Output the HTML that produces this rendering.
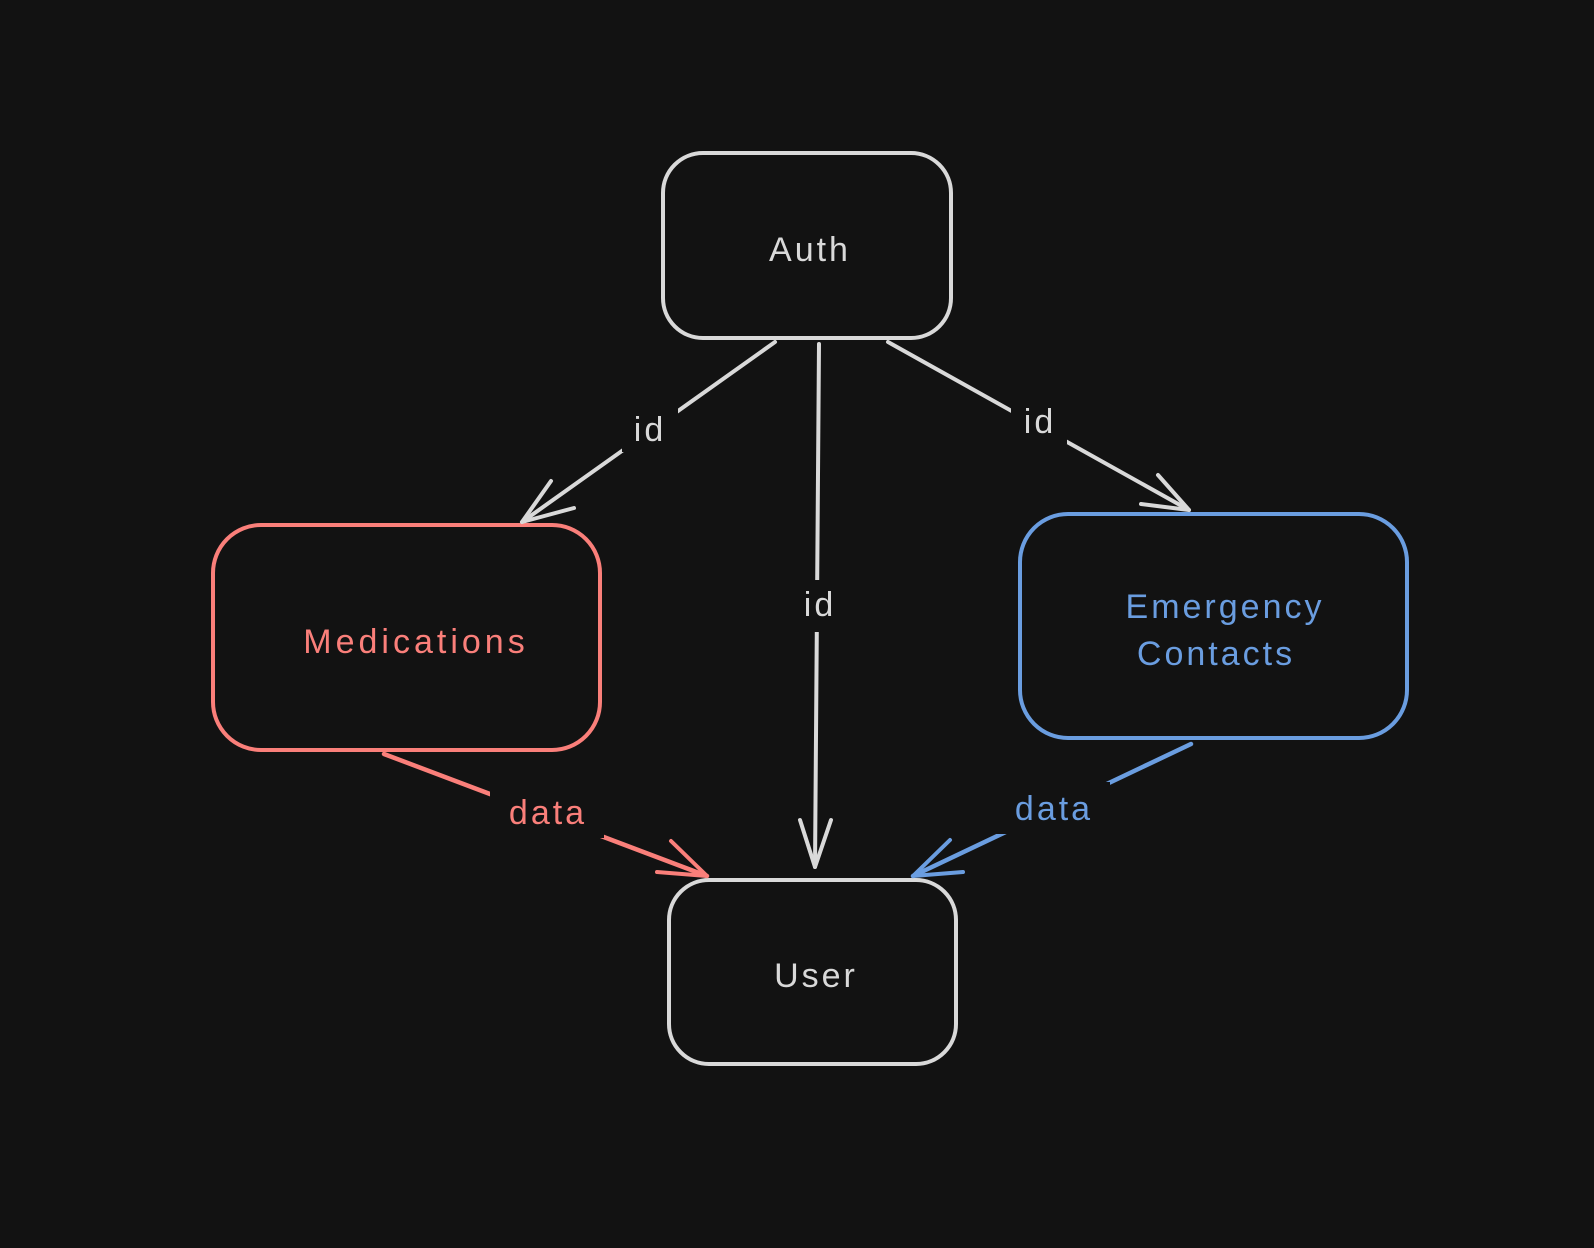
<!DOCTYPE html>
<html><head><meta charset="utf-8"><style>
html,body{margin:0;padding:0;background:#121212;}
svg{display:block}
text{font-family:"Liberation Sans","DejaVu Sans",sans-serif;}
</style></head><body>
<svg width="1594" height="1248" viewBox="0 0 1594 1248">
<rect width="1594" height="1248" fill="#121212"/>
<g fill="none" stroke-width="4" stroke-linecap="round" stroke-linejoin="round">
<rect x="663" y="153" width="288" height="185" rx="40" stroke="#d9d9d9"/>
<rect x="213" y="525" width="387" height="225" rx="48" stroke="#fa7f7a"/>
<rect x="1020" y="514" width="387" height="224" rx="48" stroke="#6a9de0"/>
<rect x="669" y="880" width="287" height="184" rx="40" stroke="#d9d9d9"/>
<line x1="775" y1="342" x2="522" y2="522" stroke="#d9d9d9"/>
<polyline points="551,481 522,522 574,508" stroke="#d9d9d9"/>
<line x1="819" y1="344" x2="815" y2="867" stroke="#d9d9d9"/>
<polyline points="800,820 815,867 831,820" stroke="#d9d9d9"/>
<line x1="888" y1="342" x2="1189" y2="510" stroke="#d9d9d9"/>
<polyline points="1141,504 1189,510 1158,475" stroke="#d9d9d9"/>
<line x1="384" y1="754" x2="707" y2="876" stroke="#fa7f7a" stroke-width="4.5"/>
<polyline points="657,872 707,876 671,841" stroke="#fa7f7a"/>
<line x1="1191" y1="744" x2="913" y2="876" stroke="#6a9de0" stroke-width="4.5"/>
<polyline points="950,840 913,876 963,872" stroke="#6a9de0"/>
</g>
<g fill="#121212">
<rect x="622" y="408" width="56" height="44"/>
<rect x="793" y="580" width="52" height="52"/>
<rect x="1011" y="400" width="56" height="44"/>
<rect x="490" y="786" width="114" height="52"/>
<rect x="996" y="782" width="114" height="52"/>
</g>
<g font-size="34" text-anchor="middle" dominant-baseline="central" letter-spacing="3">
<text x="810" y="250" fill="#d9d9d9">Auth</text>
<text x="416" y="642" fill="#fa7f7a" letter-spacing="4">Medications</text>
<text x="1225" y="607" fill="#6a9de0">Emergency</text>
<text x="1216" y="654" fill="#6a9de0">Contacts</text>
<text x="816" y="976" fill="#d9d9d9">User</text>
<text x="650" y="430" fill="#d9d9d9">id</text>
<text x="820" y="605" fill="#d9d9d9">id</text>
<text x="1040" y="422" fill="#d9d9d9">id</text>
<text x="548" y="813" fill="#fa7f7a">data</text>
<text x="1054" y="809" fill="#6a9de0">data</text>
</g>
</svg>
</body></html>
